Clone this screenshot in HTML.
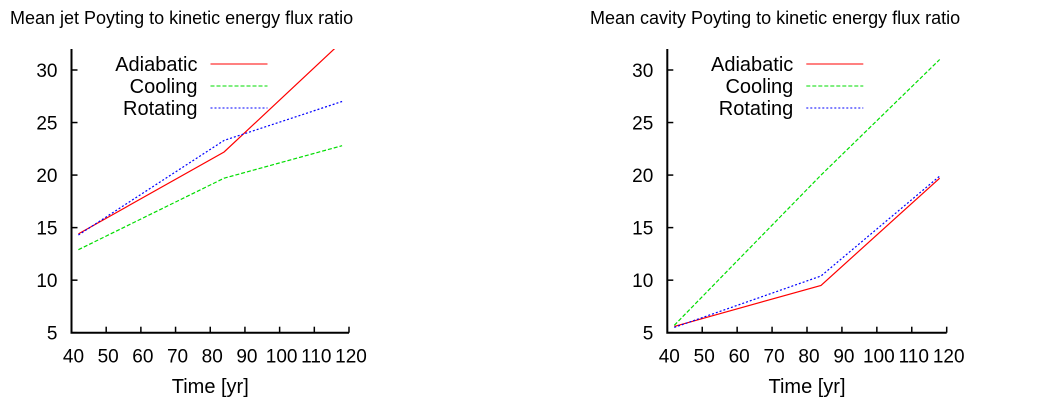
<!DOCTYPE html>
<html><head><meta charset="utf-8"><style>
body{margin:0;background:#fff;width:1037px;height:409px;overflow:hidden}
svg text{font-family:"Liberation Sans",sans-serif;fill:#000}
</style></head><body>
<svg id="chart" width="1037" height="409"></svg>
<script>
const xTicks=[40,50,60,70,80,90,100,110,120];
const yTicks=[5,10,15,20,25,30];
const seriesNames=["Adiabatic","Cooling","Rotating"];
const times=[42,84,118];
const jetAdiabatic=[14.4,22.2,32.7];
const jetCooling=[12.9,19.7,22.8];
const jetRotating=[14.3,23.3,27.0];
const cavAdiabatic=[5.6,9.5,19.7];
const cavCooling=[5.7,20.0,31.0];
const cavRotating=[5.5,10.4,19.9];
const titles=["Mean jet Poyting to kinetic energy flux ratio","Mean cavity Poyting to kinetic energy flux ratio"];
const colors=["#ff0000","#00dd00","#0000ff"];
const dashes=["","4,2","2,2"];
const NS="http://www.w3.org/2000/svg";
const svg=document.getElementById('chart');
function mk(tag,attrs,parent){const e=document.createElementNS(NS,tag);for(const k in attrs)e.setAttribute(k,attrs[k]);(parent||svg).appendChild(e);return e;}
function panel(idx,x0,x1,titleX,series){
  const y0=332.7, yTop=49;
  const sx=v=>x0+(v-40)/(80)*(x1-x0);
  const sy=v=>y0-(v-5)/25*(y0-70);
  const g=mk('g',{});
  
  
  const t=mk('text',{x:titleX,y:24,'font-size':18},g);t.textContent=titles[idx];
  
  const cid='clip'+idx;
  const cp=mk('clipPath',{id:cid},g);mk('rect',{x:x0,y:yTop,width:x1-x0,height:y0-yTop},cp);
  series.forEach((s,i)=>{
    const pts=times.map((tt,j)=>sx(tt).toFixed(1)+','+sy(s[j]).toFixed(1)).join(' ');
    const p=mk('polyline',{points:pts,fill:'none',stroke:colors[i],'stroke-width':1.2,'stroke-dasharray':dashes[i],'clip-path':'url(#'+cid+')'},g);
    
    
    const ly=[64,86,108][i];
    const lt=mk('text',{x:x0+126,y:ly+7,'font-size':20,'text-anchor':'end'},g);lt.textContent=seriesNames[i];
    
    const ll=mk('line',{x1:x0+139,x2:x0+196,y1:ly,y2:ly,stroke:colors[i],'stroke-width':1,'stroke-dasharray':dashes[i]},g);
    
  });
  const ax=mk('path',{d:`M${x0},${yTop}V${y0}H${x1}`,fill:'none',stroke:'#000','stroke-width':2},g);
  
  yTicks.forEach(v=>{
    mk('line',{x1:x0,x2:x0+6,y1:sy(v),y2:sy(v),stroke:'#000','stroke-width':1.5},g);
    const tl=mk('text',{x:x0-14,y:sy(v)+7,'font-size':19,'text-anchor':'end'},g);tl.textContent=v;
    
  });
  xTicks.forEach(v=>{
    mk('line',{x1:sx(v),x2:sx(v),y1:y0,y2:y0-6,stroke:'#000','stroke-width':1.5},g);
    const tl=mk('text',{x:sx(v)+2,y:y0+30,'font-size':19,'text-anchor':'middle'},g);tl.textContent=v;
    
  });
  const xt=mk('text',{x:(x0+x1)/2,y:393,'font-size':20,'text-anchor':'middle'},g);xt.textContent='Time [yr]';
  
}
panel(0,71.5,349,10,[jetAdiabatic,jetCooling,jetRotating]);
panel(1,667.3,946.7,590,[cavAdiabatic,cavCooling,cavRotating]);
</script>
</body></html>
